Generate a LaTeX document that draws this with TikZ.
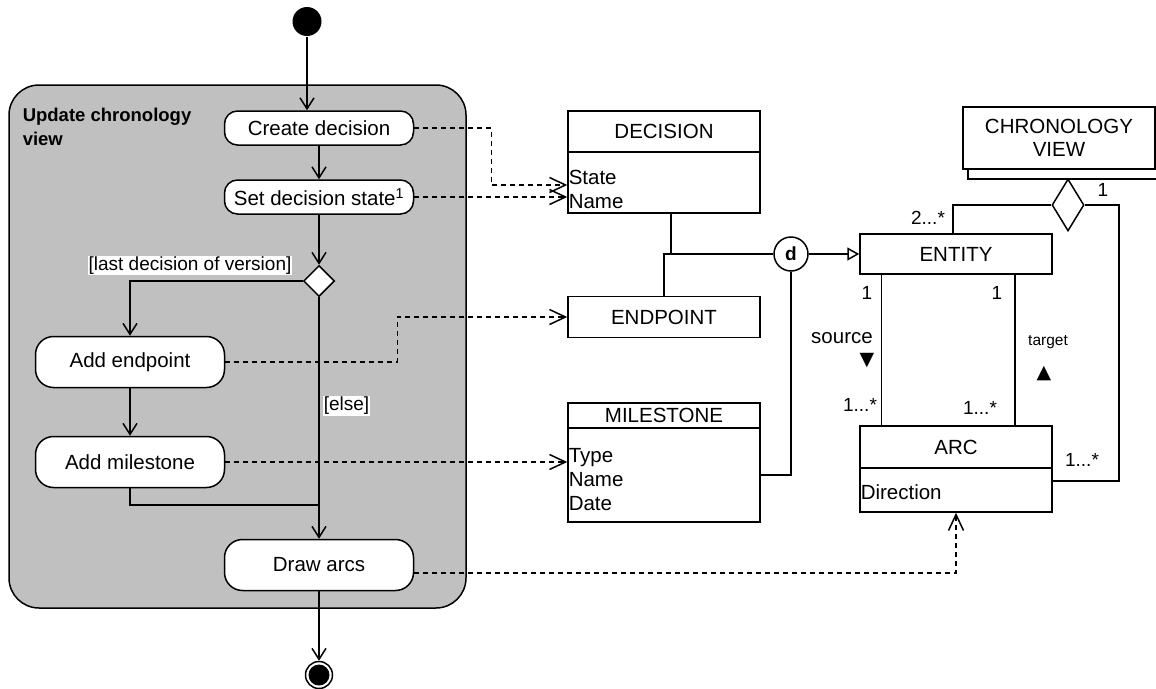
\documentclass[tikz,border=0pt]{standalone}
\usepackage{fontspec}
\setmainfont{Liberation Sans}
\newfontfamily\symfont{DejaVu Sans}
\usetikzlibrary{arrows.meta,shapes.geometric,calc}
\definecolor{lanegray}{HTML}{C0C0C0}
\begin{document}
\begin{tikzpicture}[x=1pt,y=-1pt,line width=1.5pt,
  txt/.style={font=\fontsize{20.5}{24}\selectfont},
  act/.style={draw,fill=white,rounded corners=13pt,minimum width=189pt,minimum height=34pt,inner sep=0pt,txt},
  acttall/.style={act,rounded corners=18pt,minimum height=51pt},
  cls/.style={draw,fill=white,minimum width=192pt,inner sep=0pt,txt},
  attr/.style={anchor=base west,inner sep=0pt,txt},
  lbl/.style={fill=white,inner sep=1pt,font=\fontsize{19}{22}\selectfont},
  mult/.style={inner sep=0pt,font=\fontsize{19}{22}\selectfont},
  flow/.style={-{Straight Barb[length=11pt,width=14pt]}},
  dep/.style={dash pattern=on 5pt off 4pt,-{Straight Barb[length=16pt,width=15pt]}}
]
\useasboundingbox (0,0) rectangle (1156,688);

% ---------- activity part ----------
\node[draw,fill=lanegray,rounded corners=30pt,minimum width=457pt,minimum height=523pt,inner sep=0pt] (lane) at (237.5,346.5) {};
\node[anchor=north west,align=left,inner sep=0pt,font=\bfseries\fontsize{18.5}{23.5}\selectfont] (ttl) at (22,107.5) {Update chronology\\view};

\node[circle,fill=black,minimum size=29pt,inner sep=0pt] (start) at (307,21.5) {};
\node[act] (create) at (319,128) {Create decision};
\node[act] (setstate) at (319,197) {Set decision state\textsuperscript{1}};
\node[diamond,draw,fill=white,aspect=1,minimum size=31pt,inner sep=0pt] (dec) at (319,281) {};
\node[acttall] (addep) at (130,362) {Add endpoint};
\node[acttall] (addms) at (130,462) {Add milestone};
\node[acttall] (drawarcs) at (319,565) {Draw arcs};
\node[circle,draw,minimum size=27pt,inner sep=0pt] (endc) at (319,675) {};
\fill (endc.center) circle (10.5pt);
\coordinate (mrg) at (319,505);

\draw[flow] (start) -- (start |- create.north);
\draw[flow] (create) -- (setstate);
\draw[flow] (setstate) -- (dec);
\draw[flow] (dec.west) -| (addep.north);
\draw[flow] (addep) -- (addms);
\draw (addms.south) |- (mrg);
\draw[flow] (dec) -- (drawarcs);
\draw[flow] (drawarcs) -- (endc);

\node[lbl] (lastl) at (190,265.5) {[last decision of version]};
\node[lbl,anchor=west] (elsel) at (322,406) {[else]};

% ---------- class part ----------
\node[cls,minimum height=41pt] (decH) at (664,131.5) {DECISION};
\node[cls,minimum height=61pt] (decB) at (664,182.5) {};
\node[attr] (aState) at (568,184) {State};
\node[attr] (aName) at (568,208) {Name};

\node[cls,minimum height=41pt] (endpoint) at (664,317) {ENDPOINT};

\node[cls,minimum height=25pt] (msH) at (664,415.5) {MILESTONE};
\node[cls,minimum height=94pt] (msB) at (664,475) {};
\node[attr] (aType) at (568,462) {Type};
\node[attr] (aMName) at (568,486) {Name};
\node[attr] (aDate) at (568,510) {Date};

\node[circle,draw,fill=white,minimum size=34pt,inner sep=0pt,font=\bfseries\fontsize{19}{22}\selectfont] (dcirc) at (791,254) {d};

\node[cls,minimum height=40pt] (entity) at (956,254) {ENTITY};
\node[cls,minimum height=42pt] (arcH) at (956,447) {ARC};
\node[cls,minimum height=44pt] (arcB) at (956,490) {};
\node[attr] (aDir) at (860,499) {Direction};

\draw (968,169) -- (968,179) -- (1157,179);
\node[cls,minimum width=192pt,minimum height=62pt,align=center,font=\fontsize{20.5}{23}\selectfont] (chrono) at (1059,138) {CHRONOLOGY\\VIEW};
\node[diamond,draw,fill=white,minimum width=32pt,minimum height=52pt,inner sep=0pt] (aggd) at (1068,205) {};

\draw ([xshift=7pt]decB.south) |- (dcirc.west);
\draw (endpoint.north) |- (dcirc.west);
\draw (dcirc.south) |- (msB.east);
\draw[-{Triangle[open,length=12pt,width=13pt]}] (dcirc.east) -- (entity.west);
\draw ([xshift=22pt]entity.south west) -- ([xshift=22pt]arcH.north west);
\draw ([xshift=-38pt]entity.south east) -- ([xshift=-38pt]arcH.north east);
\draw (aggd.west) -| ([xshift=-3pt]entity.north);
\draw (aggd.east) -- ++(34,0) |- ([yshift=9pt]arcB.east);

% dependencies
\draw[dep] (create.east) -- ++(77,0) |- ([yshift=-2.5pt]decB.west);
\draw[dep] (setstate.east) -- (setstate.east -| decB.west);
\draw[dep] (addep.east) -- ++(172,0) |- (endpoint.west);
\draw[dep] (addms.east) -- (addms.east -| msB.west);
\draw[dep] ([yshift=-8pt]drawarcs.east) -| (arcB.south);

% multiplicities and roles
\node[mult] (m1) at (928,218) {2...*};
\node[mult] (m2) at (1103,190) {1};
\node[mult] (m3) at (867,293) {1};
\node[mult] (m4) at (997,293) {1};
\node[inner sep=0pt,txt] (src) at (842,338) {source};
\node[inner sep=0pt,font=\symfont\fontsize{19}{20}\selectfont] (srcarr) at (867,361) {▼};
\node[mult] (m5) at (860,405) {1...*};
\node[mult] (m6) at (980,408) {1...*};
\node[inner sep=0pt,font=\fontsize{15.5}{18}\selectfont] (tgt) at (1048,342) {target};
\node[inner sep=0pt,font=\symfont\fontsize{19}{20}\selectfont] (tgtarr) at (1044,374) {▲};
\node[mult] (m7) at (1082,460) {1...*};
\end{tikzpicture}
\end{document}
